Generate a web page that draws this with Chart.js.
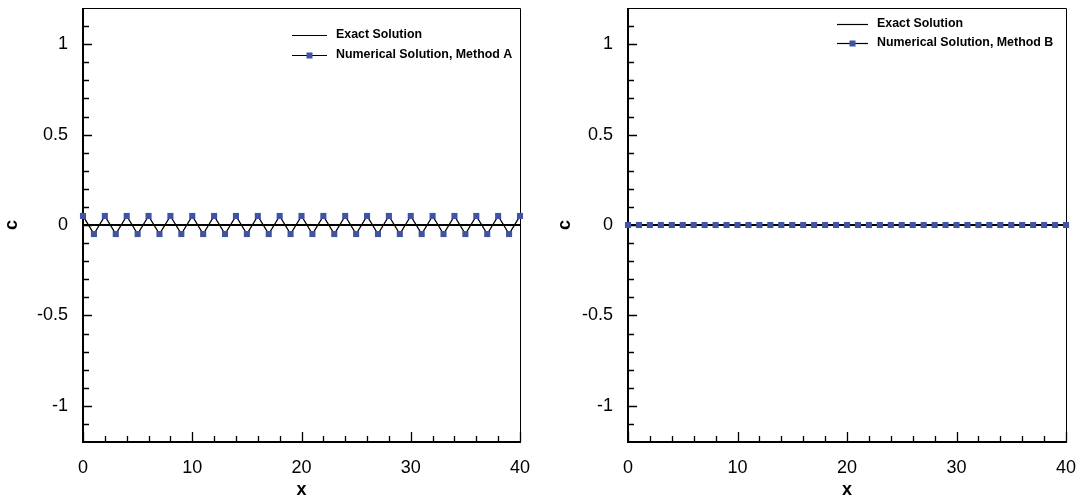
<!DOCTYPE html>
<html>
<head>
<meta charset="utf-8">
<title>Exact vs numerical solution</title>
<script src="https://cdn.jsdelivr.net/npm/chart.js@4/dist/chart.umd.min.js"></script>
<style>
  html, body { margin: 0; padding: 0; background: #fff; }
  #wrap { display: flex; width: 1088px; height: 504px; }
  canvas { display: block; }
</style>
</head>
<body>
<div id="wrap">
  <canvas id="chartA" width="544" height="504"></canvas>
  <canvas id="chartB" width="544" height="504"></canvas>
</div>
<script>
// grid points and solution values
const xs = [0, 1, 2, 3, 4, 5, 6, 7, 8, 9, 10, 11, 12, 13, 14, 15, 16, 17, 18, 19, 20,
  21, 22, 23, 24, 25, 26, 27, 28, 29, 30, 31, 32, 33, 34, 35, 36, 37, 38, 39, 40];
const cMethodA = [0.05, -0.05, 0.05, -0.05, 0.05, -0.05, 0.05, -0.05, 0.05, -0.05, 0.05,
  -0.05, 0.05, -0.05, 0.05, -0.05, 0.05, -0.05, 0.05, -0.05, 0.05,
  -0.05, 0.05, -0.05, 0.05, -0.05, 0.05, -0.05, 0.05, -0.05, 0.05,
  -0.05, 0.05, -0.05, 0.05, -0.05, 0.05, -0.05, 0.05, -0.05, 0.05];
const cMethodB = [0, 0, 0, 0, 0, 0, 0, 0, 0, 0, 0, 0, 0, 0, 0, 0, 0, 0, 0, 0, 0,
  0, 0, 0, 0, 0, 0, 0, 0, 0, 0, 0, 0, 0, 0, 0, 0, 0, 0, 0, 0];
const exactX = [0, 40];
const exactC = [0, 0];

// axis ticks
const xMajorTicks = [0, 10, 20, 30, 40];
const xMinorTicks = [2, 4, 6, 8, 12, 14, 16, 18, 22, 24, 26, 28, 32, 34, 36, 38];
const yMajorTicks = [-1, -0.5, 0, 0.5, 1];
const yMinorTicks = [-1.1, -0.9, -0.8, -0.7, -0.6, -0.4, -0.3, -0.2, -0.1,
  0.1, 0.2, 0.3, 0.4, 0.6, 0.7, 0.8, 0.9, 1.1];

const MARKER = '#3f54a4';
Chart.defaults.font.family = '"Liberation Sans", Arial, Helvetica, sans-serif';
Chart.defaults.color = '#000';

// box around the plot and tick marks pointing inwards
const frameAndTicks = {
  id: 'frameAndTicks',
  beforeDatasetsDraw(chart) {
    const { ctx, chartArea: a, scales: { x, y } } = chart;
    ctx.save();
    ctx.strokeStyle = '#000';
    ctx.lineWidth = 1;
    ctx.beginPath();
    ctx.moveTo(a.left, a.top + 0.5);
    ctx.lineTo(a.right + 0.5, a.top + 0.5);
    ctx.lineTo(a.right + 0.5, a.bottom);
    ctx.stroke();

    ctx.lineWidth = 1.3;
    ctx.beginPath();
    const xTick = (v, len) => {
      const px = Math.round(x.getPixelForValue(v)) + 0.5;
      ctx.moveTo(px, a.bottom);
      ctx.lineTo(px, a.bottom - len);
    };
    const yTick = (v, len) => {
      const py = Math.round(y.getPixelForValue(v)) + 0.5;
      ctx.moveTo(a.left, py);
      ctx.lineTo(a.left + len, py);
    };
    xMajorTicks.forEach(v => xTick(v, 10));
    xMinorTicks.forEach(v => xTick(v, 6));
    yMajorTicks.forEach(v => yTick(v, 9));
    yMinorTicks.forEach(v => yTick(v, 6));
    ctx.stroke();

    ctx.lineWidth = 2;
    ctx.beginPath();
    ctx.moveTo(a.left, a.top);
    ctx.lineTo(a.left, a.bottom);
    ctx.lineTo(a.right + 1, a.bottom);
    ctx.stroke();
    ctx.restore();
  }
};

// legend drawn inside the plot area
const insideLegend = {
  id: 'insideLegend',
  afterDatasetsDraw(chart, args, opts) {
    const { ctx } = chart;
    ctx.save();
    ctx.font = 'bold 12.4px "Liberation Sans", Arial, sans-serif';
    ctx.textBaseline = 'middle';
    ctx.textAlign = 'left';
    chart.data.datasets.forEach((ds, i) => {
      const yy = opts.y + i * opts.gap;
      ctx.strokeStyle = '#000';
      ctx.lineWidth = 1.2;
      ctx.beginPath();
      ctx.moveTo(opts.x, yy + 0.5);
      ctx.lineTo(opts.x + opts.len, yy + 0.5);
      ctx.stroke();
      if (ds.pointRadius > 0) {
        ctx.fillStyle = ds.pointBackgroundColor;
        ctx.fillRect(opts.x + opts.len / 2 - 3, yy - 2.5, 6, 6);
      }
      ctx.fillStyle = '#000';
      ctx.fillText(ds.label, opts.x + opts.len + 9, yy);
    });
    ctx.restore();
  }
};

function toPoints(xv, yv) {
  return xv.map((v, i) => ({ x: v, y: yv[i] }));
}

function makeChart(id, label, values, pad, legend) {
  return new Chart(document.getElementById(id), {
    type: 'line',
    data: {
      datasets: [
        {
          label: 'Exact Solution',
          data: toPoints(exactX, exactC),
          borderColor: '#000',
          borderWidth: 2,
          pointRadius: 0,
          order: 2,
          clip: false
        },
        {
          label: label,
          data: toPoints(xs, values),
          borderColor: '#000',
          borderWidth: 1.3,
          pointStyle: 'rect',
          pointRadius: 4.3,
          pointBorderWidth: 0,
          pointBackgroundColor: MARKER,
          pointBorderColor: MARKER,
          order: 1,
          clip: false
        }
      ]
    },
    options: {
      responsive: false,
      animation: false,
      layout: { padding: { top: 8, right: pad.right, left: 0, bottom: 0 } },
      plugins: {
        legend: { display: false },
        tooltip: { enabled: false },
        insideLegend: legend
      },
      scales: {
        x: {
          type: 'linear',
          min: 0,
          max: 40,
          afterBuildTicks: s => { s.ticks = xMajorTicks.map(v => ({ value: v })); },
          afterFit: s => {
            s.height = 62;
            s.paddingLeft = 0;
            s.paddingRight = 0;
          },
          grid: { display: false, drawTicks: false },
          border: { display: false },
          ticks: { font: { size: 18 }, padding: 15, maxRotation: 0, callback: v => String(v) },
          title: { display: true, text: 'x', font: { size: 18, weight: 'bold' }, padding: { top: 0, bottom: 3 } }
        },
        y: {
          type: 'linear',
          min: -1.2,
          max: 1.2,
          afterBuildTicks: s => { s.ticks = yMajorTicks.map(v => ({ value: v })); },
          afterFit: s => {
            s.width = pad.left;
            s.paddingTop = 0;
            s.paddingBottom = 0;
          },
          grid: { display: false, drawTicks: false },
          border: { display: false },
          ticks: { font: { size: 18 }, padding: 15, callback: v => String(v) },
          title: { display: true, text: 'c', font: { size: 18, weight: 'bold' }, padding: { top: pad.title, bottom: 0 } }
        }
      }
    },
    plugins: [frameAndTicks, insideLegend]
  });
}

makeChart('chartA', 'Numerical Solution, Method A', cMethodA,
  { left: 83, right: 24, title: 1 }, { x: 292, y: 35, gap: 20, len: 35 });
makeChart('chartB', 'Numerical Solution, Method B', cMethodB,
  { left: 84, right: 22, title: 10 }, { x: 293, y: 24, gap: 19, len: 31 });
</script>
</body>
</html>
